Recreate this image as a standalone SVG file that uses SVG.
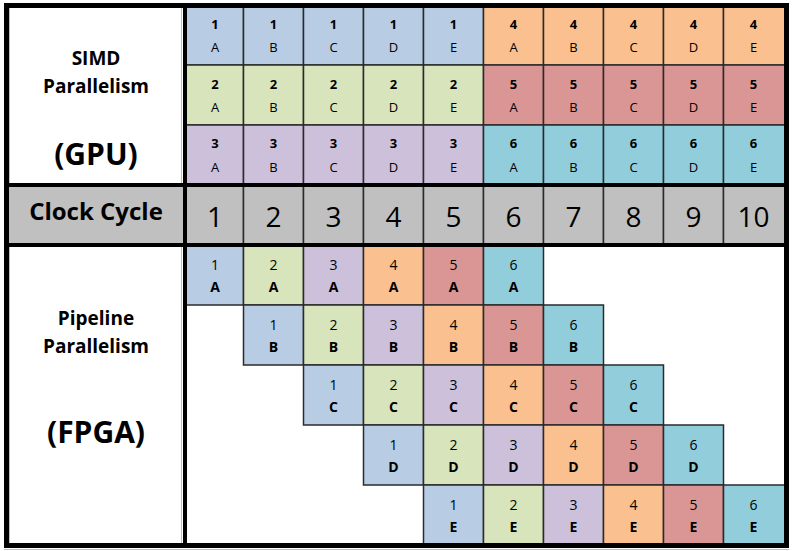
<svg xmlns="http://www.w3.org/2000/svg" width="793" height="551" viewBox="0 0 793 551">
<style>
text{font-family:"Open Sans","Liberation Sans",sans-serif;fill:#000;text-anchor:middle}
.cell{stroke:#2b2b2b;stroke-width:1.5}
.c1{fill:#B8CCE4}.c2{fill:#D8E4BC}.c3{fill:#CCC0DA}.c4{fill:#FAC090}.c5{fill:#DA9694}.c6{fill:#92CDDC}
.gray{fill:#C0C0C0}
.tn{font-size:13px;font-weight:700}
.tl{font-size:13px}
.bn{font-size:14px}
.bl{font-size:14px;font-weight:700}
.lab{font-size:19px;font-weight:700}
.big{font-size:30px;font-weight:700}
.clk{font-size:24px;font-weight:700}
.dig{font-size:28px}
.thick{stroke:#000;fill:none}
.thin{stroke:#2b2b2b;stroke-width:1.5}
.faint{stroke:#BFBFBF;stroke-width:1}
</style>
<rect x="0" y="0" width="793" height="551" fill="#fff"/>

<g id="label-simd">
<text class="lab" x="96" y="65">SIMD</text>
<text class="lab" x="96" y="93">Parallelism</text>
<text class="big" x="96" y="165">(GPU)</text>
</g>

<g id="gpu-grid">
<g id="g1A"><rect class="cell c1" x="185" y="6" width="58.5" height="59"/><text class="tn" x="215" y="29">1</text><text class="tl" x="215" y="52">A</text></g>
<g id="g1B"><rect class="cell c1" x="243.5" y="6" width="60" height="59"/><text class="tn" x="273.5" y="29">1</text><text class="tl" x="273.5" y="52">B</text></g>
<g id="g1C"><rect class="cell c1" x="303.5" y="6" width="60" height="59"/><text class="tn" x="333.5" y="29">1</text><text class="tl" x="333.5" y="52">C</text></g>
<g id="g1D"><rect class="cell c1" x="363.5" y="6" width="60" height="59"/><text class="tn" x="393.5" y="29">1</text><text class="tl" x="393.5" y="52">D</text></g>
<g id="g1E"><rect class="cell c1" x="423.5" y="6" width="60" height="59"/><text class="tn" x="453.5" y="29">1</text><text class="tl" x="453.5" y="52">E</text></g>
<g id="g4A"><rect class="cell c4" x="483.5" y="6" width="60" height="59"/><text class="tn" x="513.5" y="29">4</text><text class="tl" x="513.5" y="52">A</text></g>
<g id="g4B"><rect class="cell c4" x="543.5" y="6" width="60" height="59"/><text class="tn" x="573.5" y="29">4</text><text class="tl" x="573.5" y="52">B</text></g>
<g id="g4C"><rect class="cell c4" x="603.5" y="6" width="60" height="59"/><text class="tn" x="633.5" y="29">4</text><text class="tl" x="633.5" y="52">C</text></g>
<g id="g4D"><rect class="cell c4" x="663.5" y="6" width="60" height="59"/><text class="tn" x="693.5" y="29">4</text><text class="tl" x="693.5" y="52">D</text></g>
<g id="g4E"><rect class="cell c4" x="723.5" y="6" width="62.5" height="59"/><text class="tn" x="753.5" y="29">4</text><text class="tl" x="753.5" y="52">E</text></g>

<g id="g2A"><rect class="cell c2" x="185" y="65" width="58.5" height="60"/><text class="tn" x="215" y="88.5">2</text><text class="tl" x="215" y="112">A</text></g>
<g id="g2B"><rect class="cell c2" x="243.5" y="65" width="60" height="60"/><text class="tn" x="273.5" y="88.5">2</text><text class="tl" x="273.5" y="112">B</text></g>
<g id="g2C"><rect class="cell c2" x="303.5" y="65" width="60" height="60"/><text class="tn" x="333.5" y="88.5">2</text><text class="tl" x="333.5" y="112">C</text></g>
<g id="g2D"><rect class="cell c2" x="363.5" y="65" width="60" height="60"/><text class="tn" x="393.5" y="88.5">2</text><text class="tl" x="393.5" y="112">D</text></g>
<g id="g2E"><rect class="cell c2" x="423.5" y="65" width="60" height="60"/><text class="tn" x="453.5" y="88.5">2</text><text class="tl" x="453.5" y="112">E</text></g>
<g id="g5A"><rect class="cell c5" x="483.5" y="65" width="60" height="60"/><text class="tn" x="513.5" y="88.5">5</text><text class="tl" x="513.5" y="112">A</text></g>
<g id="g5B"><rect class="cell c5" x="543.5" y="65" width="60" height="60"/><text class="tn" x="573.5" y="88.5">5</text><text class="tl" x="573.5" y="112">B</text></g>
<g id="g5C"><rect class="cell c5" x="603.5" y="65" width="60" height="60"/><text class="tn" x="633.5" y="88.5">5</text><text class="tl" x="633.5" y="112">C</text></g>
<g id="g5D"><rect class="cell c5" x="663.5" y="65" width="60" height="60"/><text class="tn" x="693.5" y="88.5">5</text><text class="tl" x="693.5" y="112">D</text></g>
<g id="g5E"><rect class="cell c5" x="723.5" y="65" width="62.5" height="60"/><text class="tn" x="753.5" y="88.5">5</text><text class="tl" x="753.5" y="112">E</text></g>

<g id="g3A"><rect class="cell c3" x="185" y="125" width="58.5" height="60"/><text class="tn" x="215" y="148">3</text><text class="tl" x="215" y="172">A</text></g>
<g id="g3B"><rect class="cell c3" x="243.5" y="125" width="60" height="60"/><text class="tn" x="273.5" y="148">3</text><text class="tl" x="273.5" y="172">B</text></g>
<g id="g3C"><rect class="cell c3" x="303.5" y="125" width="60" height="60"/><text class="tn" x="333.5" y="148">3</text><text class="tl" x="333.5" y="172">C</text></g>
<g id="g3D"><rect class="cell c3" x="363.5" y="125" width="60" height="60"/><text class="tn" x="393.5" y="148">3</text><text class="tl" x="393.5" y="172">D</text></g>
<g id="g3E"><rect class="cell c3" x="423.5" y="125" width="60" height="60"/><text class="tn" x="453.5" y="148">3</text><text class="tl" x="453.5" y="172">E</text></g>
<g id="g6A"><rect class="cell c6" x="483.5" y="125" width="60" height="60"/><text class="tn" x="513.5" y="148">6</text><text class="tl" x="513.5" y="172">A</text></g>
<g id="g6B"><rect class="cell c6" x="543.5" y="125" width="60" height="60"/><text class="tn" x="573.5" y="148">6</text><text class="tl" x="573.5" y="172">B</text></g>
<g id="g6C"><rect class="cell c6" x="603.5" y="125" width="60" height="60"/><text class="tn" x="633.5" y="148">6</text><text class="tl" x="633.5" y="172">C</text></g>
<g id="g6D"><rect class="cell c6" x="663.5" y="125" width="60" height="60"/><text class="tn" x="693.5" y="148">6</text><text class="tl" x="693.5" y="172">D</text></g>
<g id="g6E"><rect class="cell c6" x="723.5" y="125" width="62.5" height="60"/><text class="tn" x="753.5" y="148">6</text><text class="tl" x="753.5" y="172">E</text></g>
</g>

<g id="clock-row">
<rect class="gray" x="9" y="185" width="776" height="60"/>
<text class="clk" x="96" y="220">Clock Cycle</text>
<g id="cc1"><rect class="cell gray" x="185" y="185" width="58.5" height="60"/><text class="dig" x="215" y="226.5">1</text></g>
<g id="cc2"><rect class="cell gray" x="243.5" y="185" width="60" height="60"/><text class="dig" x="273.5" y="226.5">2</text></g>
<g id="cc3"><rect class="cell gray" x="303.5" y="185" width="60" height="60"/><text class="dig" x="333.5" y="226.5">3</text></g>
<g id="cc4"><rect class="cell gray" x="363.5" y="185" width="60" height="60"/><text class="dig" x="393.5" y="226.5">4</text></g>
<g id="cc5"><rect class="cell gray" x="423.5" y="185" width="60" height="60"/><text class="dig" x="453.5" y="226.5">5</text></g>
<g id="cc6"><rect class="cell gray" x="483.5" y="185" width="60" height="60"/><text class="dig" x="513.5" y="226.5">6</text></g>
<g id="cc7"><rect class="cell gray" x="543.5" y="185" width="60" height="60"/><text class="dig" x="573.5" y="226.5">7</text></g>
<g id="cc8"><rect class="cell gray" x="603.5" y="185" width="60" height="60"/><text class="dig" x="633.5" y="226.5">8</text></g>
<g id="cc9"><rect class="cell gray" x="663.5" y="185" width="60" height="60"/><text class="dig" x="693.5" y="226.5">9</text></g>
<g id="cc10"><rect class="cell gray" x="723.5" y="185" width="62.5" height="60"/><text class="dig" x="753.5" y="226.5">10</text></g>
</g>

<g id="label-pipeline">
<text class="lab" x="96" y="325">Pipeline</text>
<text class="lab" x="96" y="353">Parallelism</text>
<text class="big" x="96" y="443">(FPGA)</text>
</g>

<g id="fpga-grid">
<g id="pA1"><rect class="cell c1" x="185" y="245" width="58.5" height="60"/><text class="bn" x="215" y="269.5">1</text><text class="bl" x="215" y="292">A</text></g>
<g id="pA2"><rect class="cell c2" x="243.5" y="245" width="60" height="60"/><text class="bn" x="273.5" y="269.5">2</text><text class="bl" x="273.5" y="292">A</text></g>
<g id="pA3"><rect class="cell c3" x="303.5" y="245" width="60" height="60"/><text class="bn" x="333.5" y="269.5">3</text><text class="bl" x="333.5" y="292">A</text></g>
<g id="pA4"><rect class="cell c4" x="363.5" y="245" width="60" height="60"/><text class="bn" x="393.5" y="269.5">4</text><text class="bl" x="393.5" y="292">A</text></g>
<g id="pA5"><rect class="cell c5" x="423.5" y="245" width="60" height="60"/><text class="bn" x="453.5" y="269.5">5</text><text class="bl" x="453.5" y="292">A</text></g>
<g id="pA6"><rect class="cell c6" x="483.5" y="245" width="60" height="60"/><text class="bn" x="513.5" y="269.5">6</text><text class="bl" x="513.5" y="292">A</text></g>

<g id="pB1"><rect class="cell c1" x="243.5" y="305" width="60" height="60"/><text class="bn" x="273.5" y="329.5">1</text><text class="bl" x="273.5" y="352">B</text></g>
<g id="pB2"><rect class="cell c2" x="303.5" y="305" width="60" height="60"/><text class="bn" x="333.5" y="329.5">2</text><text class="bl" x="333.5" y="352">B</text></g>
<g id="pB3"><rect class="cell c3" x="363.5" y="305" width="60" height="60"/><text class="bn" x="393.5" y="329.5">3</text><text class="bl" x="393.5" y="352">B</text></g>
<g id="pB4"><rect class="cell c4" x="423.5" y="305" width="60" height="60"/><text class="bn" x="453.5" y="329.5">4</text><text class="bl" x="453.5" y="352">B</text></g>
<g id="pB5"><rect class="cell c5" x="483.5" y="305" width="60" height="60"/><text class="bn" x="513.5" y="329.5">5</text><text class="bl" x="513.5" y="352">B</text></g>
<g id="pB6"><rect class="cell c6" x="543.5" y="305" width="60" height="60"/><text class="bn" x="573.5" y="329.5">6</text><text class="bl" x="573.5" y="352">B</text></g>

<g id="pC1"><rect class="cell c1" x="303.5" y="365" width="60" height="60"/><text class="bn" x="333.5" y="389.5">1</text><text class="bl" x="333.5" y="412">C</text></g>
<g id="pC2"><rect class="cell c2" x="363.5" y="365" width="60" height="60"/><text class="bn" x="393.5" y="389.5">2</text><text class="bl" x="393.5" y="412">C</text></g>
<g id="pC3"><rect class="cell c3" x="423.5" y="365" width="60" height="60"/><text class="bn" x="453.5" y="389.5">3</text><text class="bl" x="453.5" y="412">C</text></g>
<g id="pC4"><rect class="cell c4" x="483.5" y="365" width="60" height="60"/><text class="bn" x="513.5" y="389.5">4</text><text class="bl" x="513.5" y="412">C</text></g>
<g id="pC5"><rect class="cell c5" x="543.5" y="365" width="60" height="60"/><text class="bn" x="573.5" y="389.5">5</text><text class="bl" x="573.5" y="412">C</text></g>
<g id="pC6"><rect class="cell c6" x="603.5" y="365" width="60" height="60"/><text class="bn" x="633.5" y="389.5">6</text><text class="bl" x="633.5" y="412">C</text></g>

<g id="pD1"><rect class="cell c1" x="363.5" y="425" width="60" height="60"/><text class="bn" x="393.5" y="449.5">1</text><text class="bl" x="393.5" y="472">D</text></g>
<g id="pD2"><rect class="cell c2" x="423.5" y="425" width="60" height="60"/><text class="bn" x="453.5" y="449.5">2</text><text class="bl" x="453.5" y="472">D</text></g>
<g id="pD3"><rect class="cell c3" x="483.5" y="425" width="60" height="60"/><text class="bn" x="513.5" y="449.5">3</text><text class="bl" x="513.5" y="472">D</text></g>
<g id="pD4"><rect class="cell c4" x="543.5" y="425" width="60" height="60"/><text class="bn" x="573.5" y="449.5">4</text><text class="bl" x="573.5" y="472">D</text></g>
<g id="pD5"><rect class="cell c5" x="603.5" y="425" width="60" height="60"/><text class="bn" x="633.5" y="449.5">5</text><text class="bl" x="633.5" y="472">D</text></g>
<g id="pD6"><rect class="cell c6" x="663.5" y="425" width="60" height="60"/><text class="bn" x="693.5" y="449.5">6</text><text class="bl" x="693.5" y="472">D</text></g>

<g id="pE1"><rect class="cell c1" x="423.5" y="485" width="60" height="60"/><text class="bn" x="453.5" y="509.5">1</text><text class="bl" x="453.5" y="532">E</text></g>
<g id="pE2"><rect class="cell c2" x="483.5" y="485" width="60" height="60"/><text class="bn" x="513.5" y="509.5">2</text><text class="bl" x="513.5" y="532">E</text></g>
<g id="pE3"><rect class="cell c3" x="543.5" y="485" width="60" height="60"/><text class="bn" x="573.5" y="509.5">3</text><text class="bl" x="573.5" y="532">E</text></g>
<g id="pE4"><rect class="cell c4" x="603.5" y="485" width="60" height="60"/><text class="bn" x="633.5" y="509.5">4</text><text class="bl" x="633.5" y="532">E</text></g>
<g id="pE5"><rect class="cell c5" x="663.5" y="485" width="60" height="60"/><text class="bn" x="693.5" y="509.5">5</text><text class="bl" x="693.5" y="532">E</text></g>
<g id="pE6"><rect class="cell c6" x="723.5" y="485" width="62.5" height="60"/><text class="bn" x="753.5" y="509.5">6</text><text class="bl" x="753.5" y="532">E</text></g>
</g>

<g id="connectors">
<line class="faint" x1="9.5" y1="8" x2="9.5" y2="543"/>
<line class="faint" x1="181.5" y1="8" x2="181.5" y2="543"/>
<line class="faint" x1="4" y1="549.5" x2="789" y2="549.5"/>
<line class="thick" stroke-width="4" x1="185" y1="4" x2="185" y2="548"/>
<line class="thick" stroke-width="4" x1="4" y1="185" x2="789" y2="185"/>
<line class="thick" stroke-width="4" x1="4" y1="245" x2="789" y2="245"/>
<rect class="thick" stroke-width="5" x="6.5" y="5.5" width="780" height="540"/>
</g>
</svg>
